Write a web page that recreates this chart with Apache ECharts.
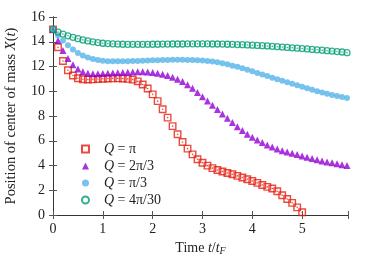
<!DOCTYPE html>
<html>
<head>
<meta charset="utf-8">
<script src="https://cdn.jsdelivr.net/npm/echarts@6/dist/echarts.min.js"></script>
<style>html,body{margin:0;padding:0;background:#fff}#c{width:374px;height:262px}</style>
</head>
<body>
<div id="c"></div>
<script>
const times = [0,0.1,0.2,0.3,0.4,0.5,0.6,0.7,0.8,0.9,1.0,1.1,1.2,1.3,1.4,1.5,1.6,1.7,1.8,1.9,2.0,2.1,2.2,2.3,2.4,2.5,2.6,2.7,2.8,2.9,3.0,3.1,3.2,3.3,3.4,3.5,3.6,3.7,3.8,3.9,4.0,4.1,4.2,4.3,4.4,4.5,4.6,4.7,4.8,4.9,5.0,5.1,5.2,5.3,5.4,5.5,5.6,5.7,5.8,5.9];
const xTicks = [0,1,2,3,4,5];
const yTicks = [0,2,4,6,8,10,12,14,16];
const seriesNames = ['Q = π','Q = 2π/3','Q = π/3','Q = 4π/30'];
const qPi = [15.0,13.55,12.45,11.7,11.27,11.05,10.97,10.95,10.96,10.99,11.01,11.03,11.04,11.04,11.03,11.0,10.94,10.8,10.55,10.22,9.75,9.2,8.55,7.87,7.18,6.52,5.9,5.36,4.9,4.5,4.22,3.99,3.79,3.64,3.51,3.4,3.29,3.16,3.03,2.89,2.75,2.6,2.42,2.27,2.14,1.92,1.6,1.29,0.98,0.62,0.22];
const q2Pi3 = [15.0,14.1,13.3,12.65,12.15,11.8,11.57,11.46,11.42,11.42,11.44,11.46,11.48,11.5,11.52,11.54,11.56,11.57,11.57,11.55,11.52,11.46,11.38,11.27,11.13,10.97,10.78,10.53,10.24,9.9,9.56,9.22,8.87,8.52,8.16,7.82,7.47,7.14,6.82,6.53,6.28,6.06,5.85,5.66,5.5,5.34,5.2,5.09,4.98,4.88,4.77,4.67,4.56,4.47,4.37,4.29,4.22,4.15,4.07,4.0];
const qPi3 = [15.0,14.5,14.1,13.72,13.37,13.1,12.88,12.72,12.6,12.52,12.46,12.43,12.42,12.42,12.42,12.43,12.44,12.45,12.47,12.48,12.5,12.51,12.52,12.53,12.54,12.54,12.54,12.53,12.52,12.5,12.48,12.45,12.4,12.34,12.27,12.18,12.07,11.97,11.85,11.73,11.61,11.48,11.36,11.23,11.1,10.97,10.85,10.72,10.6,10.48,10.36,10.24,10.12,10.01,9.9,9.8,9.7,9.61,9.53,9.45];
const q4Pi30 = [15.0,14.78,14.62,14.48,14.36,14.25,14.15,14.07,13.99,13.93,13.88,13.85,13.83,13.81,13.8,13.79,13.79,13.79,13.79,13.79,13.8,13.8,13.81,13.81,13.82,13.82,13.82,13.83,13.83,13.83,13.83,13.83,13.82,13.82,13.81,13.8,13.79,13.77,13.76,13.74,13.72,13.7,13.68,13.66,13.63,13.6,13.57,13.54,13.51,13.48,13.45,13.42,13.38,13.35,13.32,13.28,13.25,13.21,13.17,13.12];

const pairs = vals => vals.map((v, i) => [times[i], v]);
const FONT = 'Liberation Serif';
const colors = ['#e51e10', '#9400d3', '#56b4e9', '#009e73'];

const chart = echarts.init(document.getElementById('c'), null, {renderer: 'canvas'});
const axisCommon = {
  axisLine: {show: true, lineStyle: {color: '#333', width: 1}},
  splitLine: {show: false},
  axisTick: {show: true, inside: true, length: 4, lineStyle: {color: '#555'}}
};
const mainSeries = [
  {name: seriesNames[0], data: pairs(qPi), symbol: 'rect', symbolSize: 6.5,
   itemStyle: {color: 'rgba(255,255,255,0)', borderColor: colors[0], borderWidth: 1.4}},
  {name: seriesNames[1], data: pairs(q2Pi3), symbol: 'triangle', symbolSize: 7,
   itemStyle: {color: colors[1]}},
  {name: seriesNames[2], data: pairs(qPi3), symbol: 'circle', symbolSize: 6,
   itemStyle: {color: colors[2]}},
  {name: seriesNames[3], data: pairs(q4Pi30), symbol: 'circle', symbolSize: 6,
   itemStyle: {color: 'rgba(255,255,255,0)', borderColor: colors[3], borderWidth: 1.3}}
].map(s => Object.assign({type: 'scatter', xAxisIndex: 0, yAxisIndex: 0}, s));
const dotSeries = [
  {data: pairs(qPi), color: colors[0]},
  {data: pairs(q4Pi30), color: colors[3]}
].map(s => ({type: 'scatter', data: s.data, symbol: 'circle', symbolSize: 1.6,
  itemStyle: {color: s.color}, silent: true}));

chart.setOption({
  animation: false,
  textStyle: {fontFamily: FONT},
  grid: {left: 53, right: 26, top: 17, bottom: 47, containLabel: false, outerBoundsMode: 'none'},
  legend: {
    data: seriesNames, orient: 'vertical', left: 76, top: 137,
    itemWidth: 7, itemHeight: 7, itemGap: 3,
    textStyle: {fontFamily: FONT, fontSize: 14, color: '#222',
      rich: {i: {fontStyle: 'italic', fontFamily: FONT, fontSize: 14, color: '#222', padding: [0, 0, 0, 10]},
             n: {fontFamily: FONT, fontSize: 14, color: '#222'}}},
    formatter: n => '{i|Q}{n|' + n.slice(1) + '}'
  },
  xAxis: [
    Object.assign({type: 'value', min: 0, max: 5.92, interval: 1, position: 'bottom',
      name: '{n|Time }{i|t}{n|/}{i|t}{s|F}', nameLocation: 'middle', nameGap: 25,
      nameTextStyle: {rich: {
        n: {fontFamily: FONT, fontSize: 14, color: '#222'},
        i: {fontFamily: FONT, fontSize: 14, fontStyle: 'italic', color: '#222'},
        s: {fontFamily: FONT, fontSize: 10, fontStyle: 'italic', color: '#222', padding: [6, 0, 0, 0]}}},
      axisLabel: {fontFamily: FONT, fontSize: 14, color: '#222', margin: 7,
        formatter: v => xTicks.includes(v) ? String(v) : ''}}, axisCommon),
    Object.assign({type: 'value', min: 0, max: 5.92, interval: 1, position: 'top',
      axisLabel: {show: false}}, axisCommon)
  ],
  yAxis: [
    Object.assign({type: 'value', min: 0, max: 16, interval: 2, position: 'left',
      name: '{n|Position of center of mass }{i|X}{n|(}{i|t}{n|)}', nameLocation: 'middle', nameGap: 34,
      nameTextStyle: {rich: {
        n: {fontFamily: FONT, fontSize: 14.5, color: '#222'},
        i: {fontFamily: FONT, fontSize: 14.5, fontStyle: 'italic', color: '#222'}}},
      axisLabel: {fontFamily: FONT, fontSize: 14, color: '#222', margin: 8,
        formatter: v => yTicks.includes(v) ? String(v) : ''}}, axisCommon),
    Object.assign({type: 'value', min: 0, max: 16, interval: 2, position: 'right',
      axisLabel: {show: false}}, axisCommon)
  ],
  series: mainSeries.concat(dotSeries)
});
</script>
</body>
</html>
